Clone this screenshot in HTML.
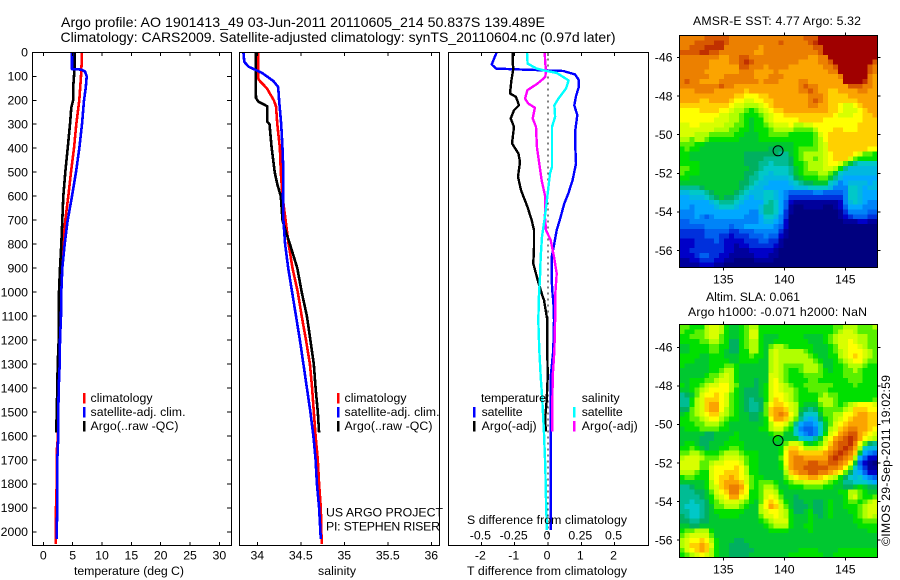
<!DOCTYPE html>
<html>
<head>
<meta charset="utf-8">
<title>Argo profile</title>
<style>
html,body{margin:0;padding:0;background:#fff;}
svg{display:block;}
text{font-family:"Liberation Sans",Arial,sans-serif;font-size:12.3px;fill:#000;}
</style>
</head>
<body>
<svg id="figure" xmlns="http://www.w3.org/2000/svg" width="900" height="580" viewBox="0 0 900 580">
<rect x="0" y="0" width="900" height="580" fill="#fff"/>
<text x="61" y="27" style="font-size:14px" textLength="484" lengthAdjust="spacingAndGlyphs">Argo profile: AO 1901413_49 03-Jun-2011 20110605_214 50.837S 139.489E</text>
<text x="60.5" y="42" style="font-size:14px" textLength="555" lengthAdjust="spacingAndGlyphs">Climatology: CARS2009. Satellite-adjusted climatology: synTS_20110604.nc (0.97d later)</text>
<g id="plots"></g>
<text x="129" y="575" text-anchor="middle" textLength="110">temperature (deg C)</text>
<text x="337" y="575" text-anchor="middle" textLength="38">salinity</text>
<text x="547" y="575" text-anchor="middle" textLength="160">T difference from climatology</text>
<text x="547" y="524" text-anchor="middle" textLength="160">S difference from climatology</text>
<text x="90.5" y="402" textLength="62">climatology</text>
<text x="90.5" y="416" textLength="95">satellite-adj. clim.</text>
<text x="90.5" y="430" textLength="88">Argo(..raw -QC)</text>
<text x="344.5" y="402" textLength="62">climatology</text>
<text x="344.5" y="416" textLength="95">satellite-adj. clim.</text>
<text x="344.5" y="430" textLength="88">Argo(..raw -QC)</text>
<text x="326" y="516.5" textLength="117">US ARGO PROJECT</text>
<text x="326" y="530.5" textLength="114">PI: STEPHEN RISER</text>
<text x="481" y="402" textLength="65">temperature</text>
<text x="481.6" y="416" textLength="41">satellite</text>
<text x="481.6" y="430" textLength="55">Argo(-adj)</text>
<text x="581.7" y="402" textLength="38">salinity</text>
<text x="581.7" y="416" textLength="41">satellite</text>
<text x="581.7" y="430" textLength="56">Argo(-adj)</text>
<text x="777" y="25" text-anchor="middle" textLength="168">AMSR-E SST: 4.77 Argo: 5.32</text>
<text x="753" y="301" text-anchor="middle" textLength="94">Altim. SLA: 0.061</text>
<text x="777.5" y="316" text-anchor="middle" textLength="179">Argo h1000: -0.071 h2000: NaN</text>
<text transform="translate(890,546) rotate(-90)" textLength="171">©IMOS 29-Sep-2011 19:02:59</text>
</svg>
<script>
// ---- profile data: depth (m) and value ----
const tempClimDepth = [0,50,100,200,300,400,500,600,700,800,900,1000,1100,1200,1300,1400,1500,1600,1650,1800,1900,1950,2050];
const tempClimValue = [6.53,6.53,6.42,6.14,5.63,5.23,4.72,4.26,3.75,3.4,3.13,2.9,2.85,2.73,2.67,2.56,2.5,2.5,2.33,2.28,2.16,2.11,2.11];
const tempSatDepth = [0,70,72,80,100,150,200,300,400,500,600,700,800,900,1000,1100,1200,1300,1400,1500,1600,1700,1800,1900,2000,2030];
const tempSatValue = [4.89,4.89,6.5,7.1,7.39,7.22,6.93,6.59,6.14,5.57,4.89,4.15,3.64,3.24,3.07,3.02,2.85,2.8,2.62,2.56,2.56,2.39,2.39,2.39,2.28,2.28];
const tempArgoDepth = [0,50,100,150,200,230,300,400,500,600,700,800,900,1000,1100,1200,1300,1400,1500,1586];
const tempArgoValue = [5.35,5.35,5.23,5.07,5.07,4.77,4.55,4.15,3.75,3.4,3.24,3.07,2.85,2.67,2.67,2.62,2.45,2.39,2.28,2.22];

const salClimDepth = [0,110,120,150,200,225,300,400,500,600,700,800,900,1000,1100,1200,1300,1400,1500,1600,1700,1800,1900,2050];
const salClimValue = [34.01,34.01,34.03,34.11,34.19,34.215,34.23,34.26,34.27,34.29,34.325,34.36,34.405,34.465,34.51,34.56,34.605,34.63,34.65,34.67,34.695,34.71,34.73,34.74];
const salSatDepth = [0,40,60,75,85,100,120,145,200,300,400,500,600,700,800,900,1000,1100,1200,1300,1400,1500,1600,1700,1800,1900,2000,2030];
const salSatValue = [33.84,33.85,33.9,33.99,34.05,34.11,34.185,34.24,34.25,34.275,34.29,34.3,34.295,34.3,34.32,34.355,34.4,34.445,34.49,34.53,34.57,34.61,34.645,34.67,34.685,34.71,34.725,34.73];
const salArgoDepth = [0,100,190,205,225,290,300,400,500,550,600,700,750,800,900,1000,1100,1200,1300,1400,1500,1586];
const salArgoValue = [33.98,33.98,33.985,34.01,34.115,34.115,34.14,34.165,34.2,34.23,34.27,34.29,34.33,34.375,34.46,34.51,34.57,34.61,34.65,34.67,34.695,34.71];

const diffTSatDepth = [0,26,51,68,72,78,92,114,147,183,221,262,325,394,464,533,589,630,686,742,797,853,950,1019,1033,1117,1242,1353,1589,1992];
const diffTSatValue = [-1.54,-1.62,-1.69,-1.56,-0.74,0.46,0.81,0.92,0.92,0.84,0.79,0.88,0.82,0.82,0.84,0.74,0.61,0.49,0.38,0.26,0.19,0.11,0.11,0.14,0.16,0.18,0.16,0.08,0.08,0.08];
const diffTArgoDepth = [0,47,68,117,172,186,221,242,276,311,380,422,457,519,575,644,700,742,811,881,950,1019,1033,1117,1242,1353,1450,1519,1582];
const diffTArgoValue = [-1.06,-1.06,-1.04,-1.10,-1.14,-0.96,-0.87,-1.02,-1.12,-1.02,-1.08,-0.89,-0.84,-0.90,-0.81,-0.62,-0.49,-0.42,-0.42,-0.44,-0.31,-0.16,-0.12,-0.02,-0.02,-0.01,-0.04,-0.08,-0.07];
const diffSSatDepth = [0,47,68,78,86,117,151,193,221,269,311,394,478,505,603,686,769,853,936,1019,1033,1117,1242,1353,1450,1589,1728,1867,1992];
const diffSSatValue = [-0.158,-0.153,-0.085,-0.01,0.065,0.155,0.135,0.078,0.048,0.053,0.03,0.03,0.03,0.015,-0.005,-0.023,-0.045,-0.055,-0.06,-0.068,-0.068,-0.073,-0.065,-0.055,-0.043,-0.03,-0.02,-0.015,-0.008];
const diffSArgoDepth = [0,47,75,103,130,158,193,214,231,276,311,394,464,533,603,686,742,783,853,922,1019,1033,1117,1242,1353,1450,1582];
const diffSArgoValue = [-0.025,-0.02,-0.015,-0.02,-0.078,-0.155,-0.173,-0.148,-0.098,-0.115,-0.09,-0.083,-0.065,-0.048,-0.02,-0.023,-0.015,0.02,0.045,0.065,0.053,0.053,0.053,0.048,0.035,0.033,0.033];

// ---- tick labels ----
const depthTicks = [0,100,200,300,400,500,600,700,800,900,1000,1100,1200,1300,1400,1500,1600,1700,1800,1900,2000];
const tempTicks = [0,5,10,15,20,25,30];
const salTicks = [34,34.5,35,35.5,36];
const diffTTicks = [-2,-1,0,1,2];
const diffSTicks = [-0.5,-0.25,0,0.25,0.5];
const lonTicks = [135,140,145];
const sstLatTicks = [-46,-48,-50,-52,-54,-56];
const floatLon = 139.489;
const floatLat = -50.837;

// ---- colour levels for the maps, north row first ----
const sstGrid = [
[19,19,19,19,19,20,20,20,20,20, 19,19,19,19,19,19,19,19,19,19, 19,19,19,19,19,20,20,20,22,22, 22,22,22,22,22,22,22,22,22,22],
[19,19,19,20,20,20,20,21,21,20, 19,19,19,19,19,19,19,19,19,19, 20,19,19,19,19,19,20,21,22,22, 22,22,22,22,22,22,22,22,22,22],
[19,19,20,20,20,21,21,21,21,19, 19,19,19,19,19,19,18,19,19,19, 19,19,19,19,19,19,19,20,20,22, 22,22,22,22,22,22,22,22,22,22],
[20,20,20,20,21,21,20,20,19,19, 19,19,19,19,19,18,18,19,19,19, 19,19,19,19,19,19,19,19,20,22, 22,22,22,22,22,22,22,22,22,22],
[19,19,19,19,19,19,19,19,18,18, 19,19,20,20,19,19,19,19,19,19, 19,19,19,19,19,19,18,18,19,19, 22,22,22,22,22,22,22,22,22,22],
[19,19,19,19,19,19,18,18,18,18, 19,19,20,21,20,19,19,19,19,19, 19,19,19,19,18,18,18,18,19,19, 20,22,22,22,22,22,22,22,22,20],
[19,19,19,19,19,19,18,18,18,18, 18,18,20,20,19,19,19,18,19,19, 19,19,18,18,18,18,18,18,18,19, 19,20,22,22,22,22,22,22,20,19],
[19,19,19,19,19,18,18,18,18,18, 18,18,19,19,19,18,18,18,18,19, 18,18,18,18,18,18,18,18,18,18, 19,19,22,22,22,22,22,22,20,19],
[19,19,19,19,19,19,18,18,18,19, 19,19,19,19,19,18,18,18,19,19, 19,18,18,18,18,18,18,18,18,18, 18,18,19,22,22,22,22,22,19,18],
[19,20,19,19,18,18,18,18,19,19, 19,19,19,19,19,19,18,19,19,19, 18,18,18,18,19,19,18,18,18,18, 18,18,18,22,22,22,22,21,19,18],
[19,19,19,19,19,19,19,19,20,19, 19,18,18,18,18,18,18,18,18,18, 18,18,18,18,19,20,19,19,18,18, 18,18,18,18,20,20,20,19,19,18],
[18,18,18,19,19,19,19,18,18,18, 18,18,18,17,18,18,18,18,18,18, 18,18,18,18,19,19,20,19,18,18, 17,17,18,18,18,18,19,19,18,18],
[18,18,18,18,18,18,18,18,18,18, 18,17,17,16,16,16,17,17,18,18, 18,18,18,18,18,18,19,19,19,18, 17,17,17,17,18,18,18,18,18,18],
[18,18,18,18,17,17,18,18,18,18, 17,16,16,15,15,16,16,17,17,18, 18,18,18,18,18,18,19,20,19,18, 17,17,17,17,17,17,18,18,18,18],
[17,17,17,17,17,17,17,17,17,17, 16,15,15,14,14,14,15,16,17,18, 18,18,18,18,18,18,19,19,18,18, 17,17,16,15,15,16,17,18,18,18],
[16,16,16,16,17,17,17,17,16,16, 15,14,14,13,12,13,14,15,16,17, 17,18,18,18,18,18,18,18,18,18, 17,17,16,15,15,15,16,17,18,18],
[16,16,16,16,16,16,16,16,15,15, 14,14,13,12,12,12,13,14,15,16, 16,17,17,17,17,17,17,17,17,17, 17,16,15,15,15,16,16,17,17,18],
[16,16,16,16,16,16,16,15,15,15, 14,14,13,12,11,12,12,14,15,16, 16,16,16,16,17,17,17,17,17,16, 16,16,16,16,16,16,16,17,17,17],
[15,15,16,16,15,15,15,15,15,14, 14,13,13,12,11,12,12,13,14,15, 15,15,16,14,14,15,15,16,16,16, 16,16,16,16,16,16,17,17,17,17],
[15,15,15,15,15,15,15,14,14,14, 13,13,12,12,11,12,12,12,13,14, 14,14,14,13,13,13,13,14,16,16, 16,17,17,16,16,16,17,17,17,17],
[15,15,15,14,14,14,13,13,13,13, 13,12,12,11,11,11,12,12,13,13, 13,13,12,12,12,12,12,13,15,16, 17,17,17,17,17,17,17,17,17,17],
[14,14,13,14,14,13,12,12,12,12, 12,12,11,11,11,11,12,12,12,12, 12,12,12,12,12,12,12,13,14,16, 17,17,17,17,17,17,17,17,17,17],
[13,13,13,12,12,11,11,11,11,11, 11,11,11,11,11,11,11,11,11,11, 11,11,11,12,12,12,12,13,14,15, 17,17,17,17,17,17,17,17,17,17],
[12,13,12,12,11,11,11,11,11,11, 11,11,11,11,11,11,11,11,10,10, 10,11,11,12,13,13,13,13,14,15, 17,17,17,17,17,17,17,17,16,16],
[12,12,11,11,11,11,11,11,11,11, 11,11,11,10,10,10,10,10,10,10, 9,9,11,12,13,14,14,14,14,15, 16,17,17,17,17,16,15,13,13,12],
[12,12,11,11,11,11,11,11,11,11, 11,11,11,10,10,10,10,9,9,9, 9,9,10,12,13,14,14,13,14,15, 16,17,17,17,15,13,12,12,12,12],
[12,12,12,12,11,11,11,11,11,11, 11,11,11,10,10,10,9,9,8,9, 9,9,10,12,12,13,14,14,14,15, 16,16,15,13,11,9,8,8,8,8],
[13,13,12,12,11,11,11,11,11,11, 11,11,11,11,10,10,9,8,8,8, 8,8,9,11,12,13,14,14,14,15, 15,14,12,9,7,7,7,7,7,7],
[13,12,12,12,11,11,11,11,11,11, 11,11,11,10,10,9,8,8,7,8, 8,8,9,11,12,13,13,13,14,14, 13,11,8,7,7,7,7,7,7,7],
[12,12,11,11,11,11,11,11,11,11, 11,11,11,10,9,9,8,7,7,7, 7,7,8,10,11,12,12,12,13,13, 11,9,7,6,6,6,6,6,6,6],
[11,11,11,11,11,11,11,11,11,11, 11,11,10,10,9,8,7,7,6,6, 6,6,7,8,9,10,10,11,11,11, 8,7,5,6,7,7,7,7,6,7],
[9,9,9,9,10,11,11,11,11,11, 11,11,10,9,8,7,7,6,6,6, 6,6,6,7,7,7,8,8,8,8, 7,5,5,5,8,8,7,6,7,7],
[7,7,8,8,8,9,10,11,11,11, 11,10,9,8,7,7,7,8,8,7, 6,5,4,4,4,4,4,5,5,4, 4,4,4,5,8,8,7,6,6,6],
[6,6,7,7,7,8,9,10,11,10, 10,9,8,7,6,7,7,8,8,7, 6,5,3,3,3,3,3,3,3,3, 3,3,3,5,8,8,7,6,6,6],
[6,6,6,6,6,6,7,8,9,9, 9,8,7,6,6,6,6,8,9,8, 6,4,2,1,1,1,1,1,1,1, 1,1,2,5,7,8,7,6,5,5],
[6,6,5,6,6,6,6,7,8,8, 8,7,6,6,6,6,7,9,9,8, 6,4,1,0,0,1,1,1,1,0, 0,1,2,4,6,6,6,5,5,5],
[5,5,5,6,6,6,6,6,6,6, 6,6,6,6,5,5,7,9,9,8, 6,3,1,0,0,0,0,0,0,0, 0,0,1,3,5,5,5,5,4,4],
[5,5,5,6,5,4,5,6,6,6, 6,6,6,5,5,5,6,8,8,7, 5,3,0,0,0,0,0,0,0,0, 0,0,1,2,3,4,4,4,3,3],
[4,4,5,5,5,5,5,5,5,5, 5,5,5,5,5,5,6,7,7,6, 5,2,0,0,0,0,0,0,0,0, 0,0,0,1,1,1,2,2,1,1],
[4,4,4,4,4,5,5,5,5,5, 4,5,5,6,6,6,6,6,6,5, 4,2,0,0,0,0,0,0,0,0, 0,0,0,0,0,0,0,0,0,0],
[3,3,3,3,3,4,4,4,4,4, 3,3,4,4,4,5,5,5,5,5, 3,1,0,0,0,0,0,0,0,0, 0,0,0,0,0,0,0,0,0,0],
[3,3,3,3,3,4,4,4,3,3, 2,3,3,3,4,4,4,5,4,4, 2,1,0,0,0,0,0,0,0,0, 0,0,0,0,0,0,0,0,0,0],
[2,2,2,3,3,3,3,4,3,2, 2,2,2,3,3,3,4,4,3,3, 1,0,0,0,0,0,0,0,0,0, 0,0,0,0,0,0,0,0,0,0],
[2,2,2,3,3,3,3,3,3,2, 2,1,2,2,3,3,3,3,3,2, 1,0,0,0,0,0,0,0,0,0, 0,0,0,0,0,0,0,0,0,0],
[2,2,3,3,3,3,3,3,3,2, 2,1,1,1,2,2,2,2,2,1, 0,0,0,0,0,0,0,0,0,0, 0,0,0,0,0,0,0,0,0,0],
[2,2,2,3,4,4,3,3,2,2, 1,1,1,1,1,2,2,2,1,1, 0,0,0,0,0,0,0,0,0,0, 0,0,0,0,0,0,0,0,0,0],
[1,1,2,2,3,3,3,2,2,1, 1,0,0,0,0,1,1,1,1,0, 0,0,0,0,0,0,0,0,0,0, 0,0,0,0,0,0,0,0,0,0],
[1,1,1,1,2,2,2,1,1,0, 0,0,0,0,0,0,0,0,0,0, 0,0,0,0,0,0,0,0,0,0, 0,0,0,0,0,0,0,0,0,0]
];
const slaGrid = [
[13,13,12,12,12,14,15,15,14,12, 11,11,12,13,14,14,12,12,12,12, 12,12,12,12,12,12,12,12,12,12, 12,13,13,14,14,14,13,13,13,14],
[13,12,12,13,13,14,15,15,14,12, 11,11,12,13,15,15,12,12,12,12, 12,12,12,12,12,12,12,12,12,12, 12,13,14,15,15,14,13,13,13,13],
[12,12,13,13,13,14,15,15,13,12, 11,11,12,13,15,15,12,11,11,11, 12,12,12,12,12,11,11,11,11,12, 13,14,15,15,15,15,14,14,13,13],
[12,12,12,12,13,13,14,14,13,12, 10,10,12,13,14,14,12,11,11,12, 12,12,12,12,12,12,11,11,11,12, 13,14,15,15,16,15,14,14,13,13],
[11,11,12,12,12,12,13,13,12,12, 10,10,12,13,14,14,12,11,13,14, 14,13,12,12,12,12,12,11,11,11, 12,13,15,15,16,16,15,14,13,13],
[11,11,12,12,12,12,13,13,12,11, 10,10,12,12,14,14,12,11,14,15, 14,14,14,14,14,13,12,11,11,11, 12,13,14,15,16,16,16,15,14,13],
[12,12,12,12,11,11,12,12,12,11, 11,11,12,12,13,12,12,11,14,15, 14,14,14,14,14,14,13,12,11,11, 12,12,14,15,16,17,16,15,14,13],
[12,12,12,11,11,11,12,12,12,12, 11,11,12,12,12,12,11,11,14,15, 14,14,14,14,14,14,14,13,12,11, 11,12,13,14,15,16,16,14,13,13],
[12,11,11,11,11,11,12,12,12,13, 13,12,11,11,11,11,11,11,14,15, 14,13,13,13,13,14,14,14,13,11, 11,12,12,13,14,14,14,13,12,12],
[11,11,11,11,11,11,12,12,13,14, 14,12,11,11,11,11,11,11,14,15, 14,13,12,12,13,14,14,14,13,12, 11,12,12,13,13,14,13,12,12,12],
[11,11,11,11,11,12,13,13,14,15, 14,12,11,11,11,11,11,11,15,15, 14,13,12,12,12,13,13,13,13,12, 12,12,12,13,13,13,13,12,12,12],
[11,11,12,12,12,13,13,14,15,15, 14,12,11,11,11,10,11,11,15,16, 14,13,12,12,12,12,13,13,12,12, 12,12,12,12,13,13,13,12,12,12],
[12,11,12,12,13,14,15,15,16,16, 14,13,11,11,11,10,11,12,15,16, 15,14,13,12,12,13,13,13,13,13, 13,12,12,12,12,13,12,12,12,12],
[11,11,12,13,14,15,16,16,16,16, 14,12,11,10,10,10,11,12,15,16, 15,14,14,13,12,12,13,13,13,13, 12,12,12,12,12,12,12,12,12,12],
[9,10,11,13,15,16,16,17,16,15, 13,12,11,10,10,10,11,12,15,16, 16,15,14,13,12,12,12,12,13,14, 13,13,12,12,12,12,12,12,12,12],
[9,9,12,14,15,17,17,17,16,15, 13,12,11,10,9,10,10,12,15,17, 16,15,14,13,12,12,12,12,14,14, 14,13,12,12,12,12,12,12,12,13],
[9,9,12,14,15,17,18,18,16,15, 13,12,11,10,9,9,10,13,16,17, 17,16,15,14,12,11,11,11,13,14, 14,13,12,13,14,15,16,16,16,15],
[10,10,13,14,15,17,18,18,16,14, 13,12,11,10,9,9,10,13,17,18, 18,17,15,14,11,10,9,10,12,13, 13,13,13,14,15,17,17,17,16,16],
[11,12,13,14,15,16,17,17,15,14, 13,12,11,11,10,10,11,13,17,18, 19,18,16,14,10,8,8,8,11,13, 13,14,14,16,16,17,18,18,17,17],
[12,12,13,13,14,15,16,16,14,13, 12,12,11,11,10,10,11,12,16,18, 18,17,15,13,9,7,6,7,10,12, 13,14,15,16,17,18,18,18,17,17],
[12,12,12,13,13,14,14,14,13,12, 11,11,11,11,11,11,11,12,14,16, 16,15,13,9,6,5,5,6,8,11, 13,15,16,17,18,18,18,18,17,17],
[11,12,12,12,13,13,13,13,12,12, 11,11,11,11,11,11,12,12,14,15, 15,13,12,8,5,4,4,5,8,11, 14,15,17,18,19,19,18,18,17,16],
[11,11,11,11,11,10,10,11,11,11, 11,12,11,11,11,11,11,11,12,13, 13,11,11,8,6,5,4,5,8,12, 15,16,18,19,20,20,18,17,16,15],
[11,11,11,11,10,10,10,11,11,11, 12,12,11,11,11,11,11,11,11,12, 11,11,11,11,8,7,7,9,11,14, 16,18,19,20,21,20,18,16,15,14],
[11,12,12,11,10,10,11,11,11,12, 12,12,12,11,11,11,11,11,11,11, 11,13,15,15,14,12,11,12,13,15, 17,19,20,20,21,19,16,13,10,9],
[12,12,13,12,11,10,11,11,12,12, 13,13,12,11,11,11,11,11,11,11, 12,15,17,17,16,14,14,14,15,16, 18,19,20,21,20,18,14,8,7,7],
[13,13,14,14,13,12,12,12,13,14, 14,14,13,12,12,12,11,11,11,11, 12,16,18,18,17,17,17,17,17,18, 19,20,21,20,19,17,11,6,5,4],
[14,15,15,15,14,13,13,13,14,15, 15,15,14,13,12,12,11,11,11,11, 13,16,18,19,19,18,18,18,18,18, 20,21,20,19,18,14,6,4,2,2],
[15,15,15,15,13,13,14,15,15,16, 16,16,15,13,12,12,11,11,11,11, 12,16,18,19,19,19,20,20,19,19, 20,20,19,18,16,11,4,2,1,0],
[15,15,15,15,13,13,15,16,16,16, 16,17,16,14,12,12,11,11,11,11, 12,15,18,19,19,20,20,20,20,20, 19,19,18,16,13,8,5,3,1,1],
[14,14,14,13,12,12,15,16,16,17, 17,17,16,14,12,12,11,11,11,11, 11,14,17,18,19,19,20,20,19,19, 18,17,16,13,10,7,6,4,2,2],
[12,13,13,12,12,12,15,16,17,17, 18,17,16,15,13,12,12,11,11,11, 11,13,15,16,17,17,18,18,17,16, 15,14,12,10,8,7,8,6,5,4],
[11,11,11,11,11,12,14,16,17,18, 18,18,17,15,13,12,13,13,13,12, 11,12,13,14,14,15,15,15,15,14, 13,12,11,9,9,8,8,8,7,6],
[9,9,10,11,11,12,14,15,17,18, 19,19,18,16,13,12,13,14,14,13, 11,11,12,12,12,13,13,13,13,12, 12,11,11,10,10,11,12,11,10,10],
[9,9,9,10,10,11,13,15,16,17, 19,19,17,16,12,12,13,15,15,14, 12,11,11,11,11,11,11,11,11,11, 11,11,12,12,14,14,13,12,11,11],
[9,9,9,9,10,11,12,14,15,16, 18,18,16,15,12,12,13,15,16,15, 13,11,11,10,11,11,11,11,11,11, 11,11,11,12,14,15,13,12,12,13],
[9,9,8,9,9,10,12,13,14,15, 15,15,14,13,12,11,13,16,17,16, 14,12,11,10,10,11,11,10,10,11, 12,11,11,12,13,13,12,13,14,15],
[9,8,8,8,9,10,11,13,13,14, 14,14,13,12,11,11,14,16,18,17, 15,13,11,10,10,10,11,10,10,11, 12,11,11,12,12,12,13,14,15,15],
[9,9,8,8,9,10,11,12,12,12, 12,12,12,11,11,11,14,15,16,16, 15,14,12,10,10,11,12,10,10,11, 12,11,11,11,12,12,13,14,15,15],
[10,9,8,8,9,10,11,11,12,12, 12,12,11,11,11,11,13,15,15,16, 15,14,12,11,11,11,12,11,10,11, 12,11,11,11,11,12,13,14,15,14],
[10,10,9,9,10,10,11,11,11,11, 11,11,11,11,11,11,12,13,14,15, 15,15,12,11,11,11,12,11,11,11, 11,11,11,11,11,12,12,13,13,13],
[11,11,10,10,11,11,11,11,11,11, 11,11,11,11,11,11,11,12,13,14, 14,14,12,11,11,12,12,11,11,11, 11,11,11,11,11,11,12,12,12,12],
[12,13,13,14,14,14,12,11,11,11, 11,11,11,11,11,11,11,11,12,12, 12,12,11,11,11,11,12,11,11,11, 11,11,11,11,11,11,11,11,12,12],
[13,14,15,15,15,15,13,11,11,11, 11,11,11,11,11,11,11,11,11,11, 11,11,11,11,11,11,11,11,11,11, 11,11,11,11,11,11,11,11,11,11],
[14,15,16,16,17,16,14,12,11,11, 11,10,10,11,11,11,11,11,11,11, 11,11,11,11,11,11,11,11,11,11, 11,11,11,11,11,11,11,11,11,11],
[14,15,17,17,18,17,15,12,11,11, 10,10,10,10,11,11,11,11,11,11, 11,11,11,11,11,11,11,11,11,11, 11,11,11,11,11,11,11,11,11,11],
[13,15,16,17,18,17,14,12,11,11, 10,10,10,10,10,11,11,11,11,11, 11,11,11,11,12,12,12,12,11,11, 11,11,12,12,12,12,12,12,12,12],
[12,13,14,15,16,15,14,12,11,11, 10,10,10,10,11,11,11,11,11,11, 11,11,12,12,12,12,12,12,12,11, 11,12,12,12,12,12,12,12,12,12]
];
const colorLevels = ['#00007f','#00009c','#0000c8','#0030dc','#0060f0','#0084f8','#00a8ff','#00b8e0','#00c8c8','#00bc94','#00b060','#00c830','#00e000','#58f000','#b0ff00','#d8ff00','#ffff00','#ffd000','#fba400','#ec8000','#d85800','#c03000','#a00000'];

// ---- axis functions ----
const NS = 'http://www.w3.org/2000/svg';
const root = document.getElementById('plots');
const yDepth = d => 52.3 + d * 0.2398;
const xTemp = v => 43.3 + v * 5.87;
const xSal = v => 257.3 + (v - 34) * 87;
const xDiffT = v => 548 + v * 33.3;
const xDiffS = v => 548 + v * 133.2;
const xLon = v => 723.3 + (v - 135) * 12.2;
const ySst = v => 57.3 + (-46 - v) * 19.33;
const ySla = v => 347.3 + (-46 - v) * 19.28;

function make(tag, attrs) {
  const el = document.createElementNS(NS, tag);
  for (const k in attrs) el.setAttribute(k, attrs[k]);
  root.appendChild(el);
  return el;
}
function tick(x1, y1, x2, y2, name) {
  const el = make('line', {x1: x1, y1: y1, x2: x2, y2: y2, stroke: '#000', 'stroke-width': 1, 'shape-rendering': 'crispEdges'});
  
  
}
function label(x, y, str, anchor, name) {
  const el = make('text', {x: x, y: y, 'text-anchor': anchor});
  el.textContent = str;
  
  
}
function frame(x, y, w, h, name) {
  const el = make('rect', {x: x, y: y, width: w, height: h, fill: 'none', stroke: '#000', 'stroke-width': 1, 'shape-rendering': 'crispEdges'});
  
  
}
function series(depths, values, xFn, color, width, name) {
  const pts = depths.map((d, i) => xFn(values[i]).toFixed(1) + ',' + yDepth(d).toFixed(1)).join(' ');
  const el = make('polyline', {points: pts, fill: 'none', stroke: color, 'stroke-width': width, 'stroke-linejoin': 'round', 'shape-rendering': 'crispEdges'});
  
  
}
function legendMark(x, y, color, name) {
  const el = make('rect', {x: x - 1, y: y - 5, width: 2.5, height: 10.5, fill: color, 'shape-rendering': 'crispEdges'});
  
  
}
const TOP = 52.5, BOT = 545.5;
function panelXTicks(vals, xFn, name) {
  vals.forEach(v => {
    tick(xFn(v), TOP, xFn(v), TOP + 3.5, name + '-tick-top');
    tick(xFn(v), BOT, xFn(v), BOT - 3.5, name + '-tick-bottom');
  });
}

// ---- temperature panel ----
series(tempClimDepth, tempClimValue, xTemp, '#ff0000', 2.6, 'temperature-climatology-line');
series(tempArgoDepth, tempArgoValue, xTemp, '#000000', 2.6, 'temperature-argo-line');
series(tempSatDepth, tempSatValue, xTemp, '#0000ff', 2.6, 'temperature-satellite-line');
frame(32.5, TOP, 199, BOT - TOP, 'temperature-panel-frame');
depthTicks.forEach(d => {
  tick(32.5, yDepth(d), 36.5, yDepth(d), 'depth-tick-left');
  tick(231.5, yDepth(d), 227, yDepth(d), 'depth-tick-right');
  label(28, yDepth(d) + 4.3, String(d), 'end', 'depth-tick-label');
});
panelXTicks(tempTicks, xTemp, 'temperature');
tempTicks.forEach(v => label(xTemp(v), 559.5, String(v), 'middle', 'temperature-tick-label'));
legendMark(84, 398, '#ff0000', 'temp-legend-mark-climatology');
legendMark(84, 412, '#0000ff', 'temp-legend-mark-satellite');
legendMark(84, 426, '#000000', 'temp-legend-mark-argo');

// ---- salinity panel ----
series(salClimDepth, salClimValue, xSal, '#ff0000', 2.6, 'salinity-climatology-line');
series(salArgoDepth, salArgoValue, xSal, '#000000', 2.6, 'salinity-argo-line');
series(salSatDepth, salSatValue, xSal, '#0000ff', 2.6, 'salinity-satellite-line');
frame(239.5, TOP, 200, BOT - TOP, 'salinity-panel-frame');
panelXTicks(salTicks, xSal, 'salinity');
salTicks.forEach(v => label(xSal(v), 559.5, String(v), 'middle', 'salinity-tick-label'));
legendMark(338, 398, '#ff0000', 'sal-legend-mark-climatology');
legendMark(338, 412, '#0000ff', 'sal-legend-mark-satellite');
legendMark(338, 426, '#000000', 'sal-legend-mark-argo');

// ---- difference panel ----
const zeroLine = make('line', {x1: xDiffT(0), y1: TOP, x2: xDiffT(0), y2: yDepth(2010), stroke: '#000', 'stroke-width': 1, 'stroke-dasharray': '2 4', 'shape-rendering': 'crispEdges'});


series(diffTSatDepth, diffTSatValue, xDiffT, '#0000ff', 2.4, 'diff-temperature-satellite-line');
series(diffTArgoDepth, diffTArgoValue, xDiffT, '#000000', 2.4, 'diff-temperature-argo-line');
series(diffSArgoDepth, diffSArgoValue, xDiffS, '#ff00ff', 2.4, 'diff-salinity-argo-line');
series(diffSSatDepth, diffSSatValue, xDiffS, '#00ffff', 2.4, 'diff-salinity-satellite-line');
frame(448.5, TOP, 200, BOT - TOP, 'difference-panel-frame');
panelXTicks(diffTTicks, xDiffT, 'diff-temperature');
diffTTicks.forEach(v => label(xDiffT(v) - 1, 559.5, String(v), 'middle', 'diff-temperature-tick-label'));
diffSTicks.forEach(v => label(xDiffS(v) - 1, 539.3, String(v), 'middle', 'diff-salinity-tick-label'));
legendMark(474, 412, '#0000ff', 'diff-legend-mark-t-satellite');
legendMark(474, 426, '#000000', 'diff-legend-mark-t-argo');
legendMark(574, 412, '#00ffff', 'diff-legend-mark-s-satellite');
legendMark(574, 426, '#ff00ff', 'diff-legend-mark-s-argo');

// ---- maps ----
function drawMap(grid, left, top, width, height, yFn, mapName) {
  const rows = grid.length, cols = grid[0].length;
  const cw = width / cols, ch = height / rows;
  grid.forEach((row, r) => {
    row.forEach((lev, c) => {
      const cell = make('rect', {x: left + c * cw, y: top + r * ch, width: cw + 0.5, height: ch + 0.5, fill: colorLevels[lev], 'shape-rendering': 'crispEdges'});
      
      
    });
  });
  frame(left, top, width, height, mapName + '-frame');
  sstLatTicks.forEach(v => {
    tick(left - 2.5, yFn(v), left, yFn(v), mapName + '-lat-tick-left');
    tick(left + width, yFn(v), left + width + 3, yFn(v), mapName + '-lat-tick-right');
    label(left - 7, yFn(v) + 4.3, String(v), 'end', mapName + '-lat-label');
  });
  lonTicks.forEach(v => {
    tick(xLon(v), top - 3, xLon(v), top, mapName + '-lon-tick-top');
    tick(xLon(v), top + height, xLon(v), top + height + 3, mapName + '-lon-tick-bottom');
    label(xLon(v), top + height + 16, String(v), 'middle', mapName + '-lon-label');
  });
  const dot = make('circle', {cx: xLon(floatLon), cy: yFn(floatLat), r: 5, fill: 'none', stroke: '#000', 'stroke-width': 1});
  
  
}
drawMap(sstGrid, 679.5, 35.5, 198, 232, ySst, 'sst-map');
drawMap(slaGrid, 679.5, 324.5, 198, 233, ySla, 'sla-map');
</script>
</body>
</html>
